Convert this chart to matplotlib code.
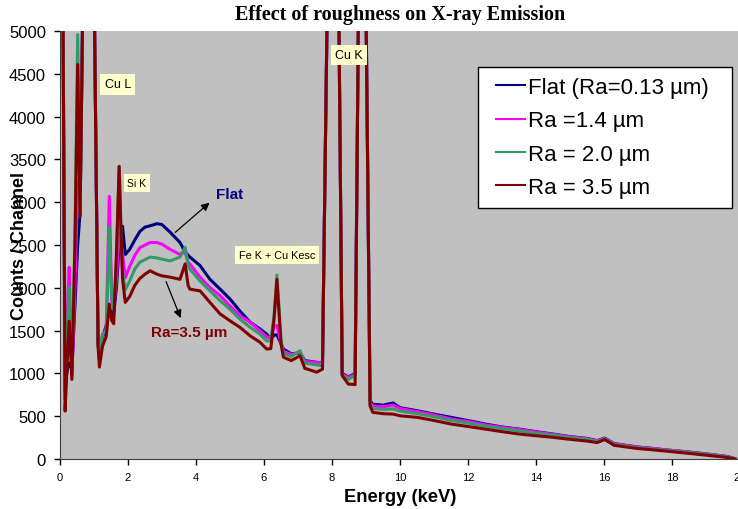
import matplotlib

matplotlib.use("Agg")
import matplotlib.pyplot as plt
from matplotlib.legend_handler import HandlerLine2D

# Energy channels (keV); Cu peaks go far off scale.
energy_kev = [
    0.05, 0.15, 0.22, 0.27, 0.35, 0.44, 0.52, 0.59, 0.67, 0.85, 1.01, 1.12, 1.16,
    1.25, 1.36, 1.45, 1.52, 1.58, 1.66, 1.74, 1.80, 1.84, 1.92, 2.05, 2.20, 2.35,
    2.50, 2.65, 2.85, 3.00, 3.24, 3.53, 3.68, 3.77, 3.82, 4.12, 4.41, 4.71, 5.00,
    5.29, 5.59, 5.88, 6.08, 6.20, 6.30, 6.38, 6.50, 6.57, 6.80, 7.06, 7.20, 7.55,
    7.72, 7.86, 8.04, 8.20, 8.30, 8.48, 8.68, 8.78, 8.90, 9.00, 9.12, 9.20, 9.50,
    9.80, 10.0, 10.5, 11.0, 11.5, 12.0, 12.5, 13.0, 13.5, 14.0, 14.5, 15.0, 15.5,
    15.8, 16.02, 16.3, 17.0, 17.4, 18.0, 18.4, 19.0, 19.6, 19.85,
]

counts_flat = [
    8000, 900, 1050, 1120, 1050, 1800, 2500, 2880, 5300, 30000, 5300, 1350, 1230,
    1420, 1560, 1750, 1700, 1700, 2000, 2500, 2500, 2720, 2390, 2450, 2560, 2660,
    2710, 2725, 2750, 2740, 2650, 2530, 2420, 2380, 2360, 2260, 2100, 1985, 1870,
    1730, 1600, 1520, 1460, 1400, 1450, 1450, 1350, 1285, 1230, 1240, 1150, 1130,
    1120, 5300, 40000, 5300, 1000, 960, 1000, 5300, 20000, 5300, 680, 640, 630,
    655, 600, 565, 525, 487, 450, 409, 375, 350, 320, 292, 262, 241,
    215, 245, 180, 140, 125, 100, 86, 60, 31, 5,
]

counts_ra14 = [
    8000, 800, 1700, 2240, 1000, 2000, 3250, 2900, 5300, 30000, 5300, 1330, 1240,
    1450, 1520, 3070, 1850, 1750, 2100, 2650, 2500, 2400, 2120, 2250, 2380, 2470,
    2500, 2530, 2530, 2510, 2450, 2390, 2420, 2300, 2280, 2125, 2005, 1910, 1790,
    1675, 1600, 1500, 1425, 1420, 1550, 1560, 1350, 1260, 1220, 1250, 1140, 1130,
    1110, 5300, 40000, 5300, 990, 955, 990, 5300, 20000, 5300, 660, 620, 610,
    630, 590, 555, 515, 467, 440, 400, 370, 345, 315, 288, 260, 238,
    212, 240, 178, 138, 125, 100, 86, 58, 30, 5,
]

counts_ra20 = [
    8000, 700, 1500, 2010, 980, 2600, 4960, 2900, 5300, 30000, 5300, 1320, 1250,
    1460, 1500, 2710, 1900, 1760, 2300, 3420, 2500, 2200, 1980, 2080, 2220, 2300,
    2330, 2360, 2350, 2335, 2315, 2360, 2475, 2260, 2220, 2080, 1965, 1850, 1750,
    1635, 1540, 1460, 1380, 1380, 1700, 2150, 1400, 1230, 1200, 1265, 1120, 1100,
    1090, 5300, 40000, 5300, 985, 930, 980, 5300, 20000, 5300, 640, 590, 580,
    585, 560, 530, 495, 450, 420, 385, 355, 330, 300, 280, 250, 232,
    205, 238, 170, 132, 118, 95, 80, 55, 25, 3,
]

counts_ra35 = [
    8000, 560, 1200, 1610, 930, 2500, 4610, 2840, 5300, 30000, 5300, 1310, 1075,
    1320, 1430, 1810, 1620, 1580, 2400, 3420, 2600, 2100, 1830, 1900, 2030, 2110,
    2160, 2200, 2160, 2140, 2125, 2100, 2280, 2025, 1985, 1965, 1830, 1695, 1615,
    1540, 1440, 1365, 1285, 1290, 1650, 2100, 1350, 1190, 1150, 1207, 1060, 1015,
    1050, 5300, 40000, 5300, 975, 876, 870, 5300, 20000, 5300, 620, 545, 530,
    525, 505, 487, 450, 409, 380, 350, 320, 292, 272, 253, 230, 210,
    192, 228, 160, 122, 109, 85, 70, 45, 19, 0,
]

series_labels = ["Flat (Ra=0.13 \u00b5m)", "Ra =1.4 \u00b5m", "Ra = 2.0 \u00b5m", "Ra = 3.5 \u00b5m"]
series_colors = ["#000080", "#FF00FF", "#339966", "#800000"]

# peak labels: text, energy, counts, font size
peak_labels = [
    ("Cu L", 1.7, 4380, 9),
    ("Si K", 2.26, 3224, 7.5),
    ("Fe K + Cu Kesc", 6.38, 2383, 7.8),
    ("Cu K", 8.5, 4720, 9),
]


class InsetLine(HandlerLine2D):
    """Legend line that starts a little in from the left of the handle box."""

    def get_xdata(self, legend, xdescent, ydescent, width, height, fontsize):
        xdata, xdata_marker = super().get_xdata(legend, xdescent, ydescent, width, height, fontsize)
        return [-xdescent + 0.22 * width, -xdescent + width], xdata_marker


def main() -> None:
    plt.rcParams["font.family"] = ["Liberation Sans", "DejaVu Sans"]

    fig = plt.figure(figsize=(7.38, 5.10), dpi=100)
    ax = fig.add_axes([0.0813, 0.098, 0.9214, 0.839])
    ax.set_facecolor("#C0C0C0")

    all_counts = [counts_flat, counts_ra14, counts_ra20, counts_ra35]
    for counts, label, color in zip(all_counts, series_labels, series_colors):
        ax.plot(energy_kev, counts, color=color, linewidth=2.2, label=label)

    ax.set_xlim(0, 20)
    ax.set_ylim(0, 5000)
    ax.set_xticks(range(0, 21, 2))
    ax.set_yticks(range(0, 5001, 500))
    ax.tick_params(axis="x", labelsize=8, length=4, width=1, direction="out", pad=5)
    ax.tick_params(axis="y", labelsize=12, length=4, width=1, direction="out", pad=6)
    for side in ("top", "right"):
        ax.spines[side].set_visible(False)
    for side in ("left", "bottom"):
        ax.spines[side].set_color("#404040")

    ax.set_xlabel("Energy (keV)", fontsize=13.2, fontweight="bold", labelpad=5)
    ax.set_ylabel("Counts / Channel", fontsize=13, fontweight="bold")
    ax.yaxis.set_label_coords(-0.047, 0.5)
    ax.set_title("Effect of roughness on X-ray Emission", fontsize=14.5, fontweight="bold",
                 family=["Liberation Serif", "DejaVu Serif"], pad=9)

    for text, x, y, size in peak_labels:
        ax.text(x, y, text, fontsize=size, ha="center", va="center",
                bbox=dict(boxstyle="square,pad=0.35", facecolor="#FFFFCC", edgecolor="none"))

    ax.annotate("", xy=(4.46, 3017), xytext=(3.33, 2628),
                arrowprops=dict(arrowstyle="-|>", color="black", linewidth=0.9, mutation_scale=12))
    ax.annotate("", xy=(3.58, 1616), xytext=(3.09, 2103),
                arrowprops=dict(arrowstyle="-|>", color="black", linewidth=0.9, mutation_scale=12))
    ax.text(5.0, 3095, "Flat", color="#000080", fontsize=11, fontweight="bold", ha="center", va="center")
    ax.text(3.79, 1484, "Ra=3.5 \u00b5m", color="#800000", fontsize=11, fontweight="bold",
            ha="center", va="center")

    leg = ax.legend(loc="upper left", bbox_to_anchor=(0.6147, 0.916, 0.3735, 0.0), mode="expand",
                    fontsize=16, frameon=True, fancybox=False, borderpad=0.45, labelspacing=0.55,
                    handlelength=1.67, handletextpad=0.14, borderaxespad=0,
                    handler_map={plt.Line2D: InsetLine()})
    leg.get_frame().set_edgecolor("black")
    leg.get_frame().set_facecolor("white")
    leg.get_frame().set_alpha(1)
    leg.get_frame().set_linewidth(1.0)
    for line in leg.get_lines():
        line.set_linewidth(1.5)

    fig.savefig("out.png", dpi=100)
    plt.close(fig)


if __name__ == "__main__":
    main()
